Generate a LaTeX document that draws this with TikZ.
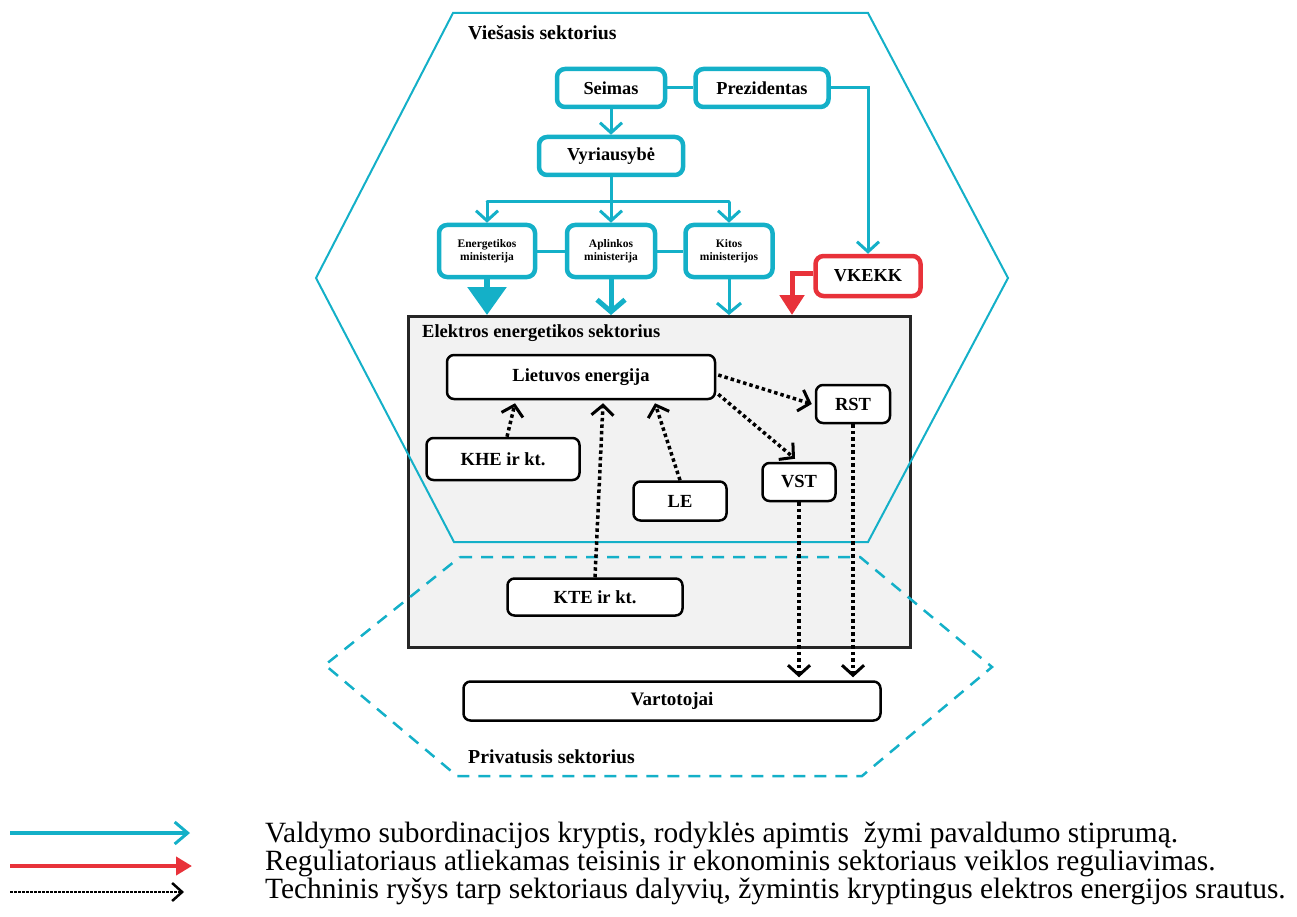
\documentclass[tikz,border=0pt]{standalone}
\usepackage{fontspec}
\setmainfont{Liberation Serif}
\usetikzlibrary{arrows.meta,calc}
\definecolor{tealc}{RGB}{20,176,200}
\definecolor{redc}{RGB}{232,50,58}
\definecolor{grayfill}{RGB}{242,242,242}
\begin{document}
\begin{tikzpicture}[x=1pt,y=-1pt,
  govbox/.style={draw=tealc, line width=4.5pt, rounded corners=8pt, fill=white,
    font=\fontsize{18.3}{19}\selectfont\bfseries, inner sep=0pt},
  ministry/.style={govbox, font=\fontsize{11.5}{12.5}\selectfont\bfseries, align=center},
  regbox/.style={govbox, draw=redc},
  elbox/.style={draw=black, line width=2.5pt, rounded corners=7pt, fill=white,
    font=\fontsize{18.5}{20}\selectfont\bfseries, inner sep=0pt},
  tline/.style={draw=tealc, line width=3pt},
  tarrow/.style={tline, -{Straight Barb[length=10pt,width=22pt,line width=3pt]}},
  dotarrow/.style={line width=3.5pt, dash pattern=on 3.5pt off 3pt,
    -{Straight Barb[length=10pt,width=22pt,line width=3pt]}},
  title/.style={font=\fontsize{19.8}{21}\selectfont\bfseries, anchor=west, inner sep=0pt},
  legtext/.style={font=\fontsize{29.4}{30}\selectfont, anchor=base west, inner sep=0pt},
]
\useasboundingbox (0,0) rectangle (1297,917);

% electricity sector box
\node[draw=black!85, line width=2.5pt, fill=grayfill, minimum width=502pt, minimum height=331pt,
  inner sep=0pt, anchor=north west] (sector) at (407,315) {};
\node[title, font=\fontsize{18.5}{20}\selectfont\bfseries] (sectortitle) at (422,333) {Elektros energetikos sektorius};

% public sector hexagon
\draw[tealc, line width=2pt] (453,13) -- (868,13) -- (1008,278) -- (868,542) -- (454,542) -- (316,278) -- cycle;
% private sector hexagon
\draw[tealc, line width=2.5pt, dash pattern=on 12pt off 9pt] (460,557) -- (860,557) -- (992,667) -- (862,776) -- (457,776) -- (325,665) -- cycle;

\node[title] (pubtitle) at (468,33) {Viešasis sektorius};
\node[title] (privtitle) at (468,757) {Privatusis sektorius};

% government nodes
\node[govbox, minimum width=108pt, minimum height=38pt] (seimas) at (611,88) {Seimas};
\node[govbox, minimum width=133pt, minimum height=38pt] (prez) at (762,88) {Prezidentas};
\node[govbox, minimum width=144pt, minimum height=38pt] (vyr) at (611,156) {Vyriausybė};
\node[ministry, minimum width=96pt, minimum height=52pt] (en) at (487,251) {Energetikos\\ministerija};
\node[ministry, minimum width=88pt, minimum height=52pt] (ap) at (611,251) {Aplinkos\\ministerija};
\node[ministry, minimum width=87pt, minimum height=52pt] (ki) at (729,251) {Kitos\\ministerijos};
\node[regbox, minimum width=105pt, minimum height=40pt] (vkekk) at (868,276) {VKEKK};

% government connectors
\draw[tline] (seimas.east) -- (prez.west);
\draw[tarrow] (seimas.south) -- (vyr.north);
\coordinate (bar) at (611,202);
\draw[tline] (vyr.south) -- (bar);
\draw[tline, line cap=round] (en.north |- bar) -- (ki.north |- bar);
\draw[tarrow] (en.north |- bar) -- (en.north);
\draw[tarrow] (bar) -- (ap.north);
\draw[tarrow] (ki.north |- bar) -- (ki.north);
\draw[tline] (en.east) -- (ap.west);
\draw[tline] (ap.east) -- (ki.west);
\draw[tarrow] (prez.east) -| (vkekk.north);

% ministries to sector
\draw[tline, line width=6pt, -{Triangle[length=28pt,width=38pt]}] (en.south) -- (en.south |- sector.north);
\draw[tline, line width=5pt, -{Straight Barb[length=12pt,width=28pt,line width=5pt]}] (ap.south) -- (ap.south |- sector.north);
\draw[tline, line width=3pt, -{Straight Barb[length=10pt,width=24pt,line width=3pt]}] (ki.south) -- (ki.south |- sector.north);
% regulator
\coordinate (redend) at (792,315);
\draw[redc, line width=5pt, -{Triangle[length=20pt,width=24pt]}] ([yshift=3pt]vkekk.west) -| (redend);

% electricity nodes
\node[elbox, minimum width=268pt, minimum height=44pt] (le1) at (581,377) {Lietuvos energija};
\node[elbox, minimum width=74pt, minimum height=38pt] (rst) at (853,404) {RST};
\node[elbox, minimum width=153pt, minimum height=42pt] (khe) at (503,459) {KHE ir kt.};
\node[elbox, minimum width=93pt, minimum height=39pt] (le) at (680,501) {LE};
\node[elbox, minimum width=73pt, minimum height=38pt] (vst) at (799,482) {VST};
\node[elbox, minimum width=175pt, minimum height=37pt] (kte) at (595,597) {KTE ir kt.};
\node[elbox, minimum width=417pt, minimum height=39pt, font=\fontsize{19}{20}\selectfont\bfseries] (vart) at (672,701) {Vartotojai};

% technical flows
\draw[dotarrow] ([xshift=4pt]khe.north) -- ([xshift=-66pt,yshift=-3pt]le1.south);
\draw[dotarrow] (kte.north) -- ([xshift=22pt,yshift=-3pt]le1.south);
\draw[dotarrow] (le.north) -- ([xshift=74pt,yshift=-3pt]le1.south);
\draw[dotarrow] ([xshift=2pt,yshift=2pt]le1.east) -- ([xshift=-3pt]rst.west);
\draw[dotarrow] ([xshift=2pt,yshift=6pt]le1.south east) -- ([xshift=-4pt,yshift=3pt]vst.north);
\draw[dotarrow] (vst.south) -- ([yshift=3pt]vst.south |- vart.north);
\draw[dotarrow] (rst.south) -- ([yshift=3pt]rst.south |- vart.north);

% legend
\coordinate (l1a) at (10,833); \coordinate (l1b) at (190,833);
\coordinate (l2a) at (10,866); \coordinate (l2b) at (192,866);
\coordinate (l3a) at (10,892); \coordinate (l3b) at (184,892);
\draw[tealc, line width=4pt, -{Straight Barb[length=13pt,width=22pt,line width=3pt]}] (l1a) -- (l1b);
\draw[redc, line width=4pt, -{Triangle[length=16pt,width=18pt]}] (l2a) -- (l2b);
\draw[line width=2.5pt, dash pattern=on 2.5pt off 1.5pt, -{Straight Barb[length=10pt,width=18pt,line width=2.5pt]}] (l3a) -- (l3b);
\node[legtext] (t1) at (265,842) {Valdymo subordinacijos kryptis, rodyklės apimtis\ \ žymi pavaldumo stiprumą.};
\node[legtext] (t2) at (265,870) {Reguliatoriaus atliekamas teisinis ir ekonominis sektoriaus veiklos reguliavimas.};
\node[legtext] (t3) at (265,898) {Techninis ryšys tarp sektoriaus dalyvių, žymintis kryptingus elektros energijos srautus.};
\end{tikzpicture}
\end{document}
